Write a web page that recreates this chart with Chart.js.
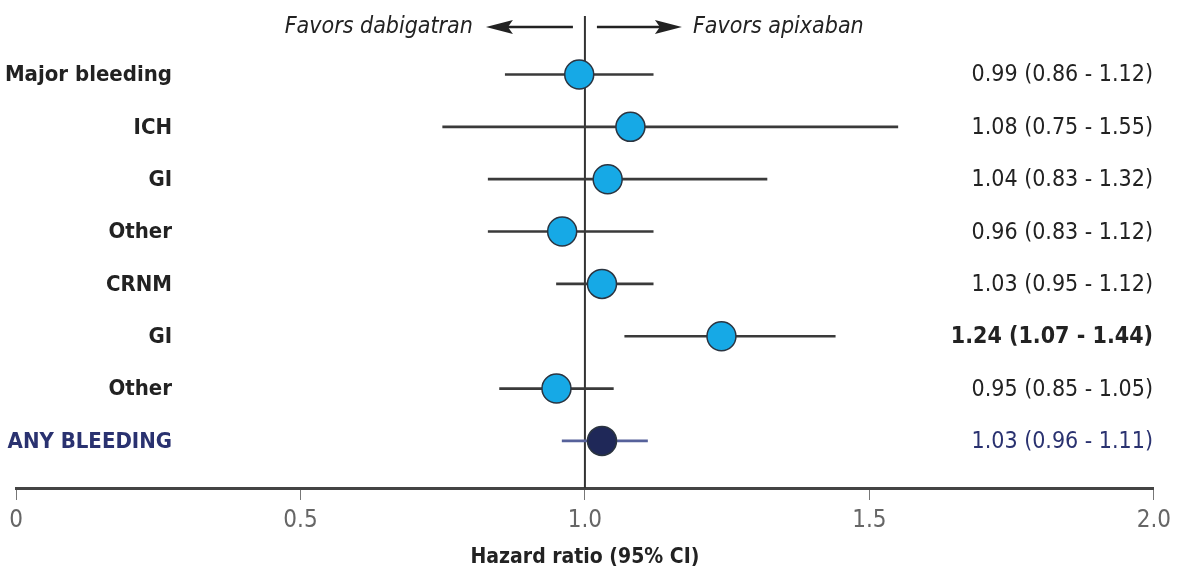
<!DOCTYPE html>
<html>
<head>
<meta charset="utf-8">
<script src="https://cdn.jsdelivr.net/npm/chart.js@4.4.1/dist/chart.umd.min.js"></script>
<style>
  html, body { margin: 0; padding: 0; background: #fff; }
  #wrap { width: 1177px; height: 574px; }
</style>
</head>
<body>
<div id="wrap"><canvas id="forest"></canvas></div>
<script>
// Rows, top to bottom
const categories = ['Major bleeding', 'ICH', 'GI', 'Other', 'CRNM', 'GI', 'Other', 'ANY BLEEDING'];
const hazardRatio = [0.99, 1.08, 1.04, 0.96, 1.03, 1.24, 0.95, 1.03];
const ciLow = [0.86, 0.75, 0.83, 0.83, 0.95, 1.07, 0.85, 0.96];
const ciHigh = [1.12, 1.55, 1.32, 1.12, 1.12, 1.44, 1.05, 1.11];
const boldRows = [5];
const totalRow = 7;
const tickLabels = ['0', '0.5', '1.0', '1.5', '2.0'];

const NARROW = "'Liberation Sans Narrow', 'DejaVu Sans Condensed', 'Arial Narrow', sans-serif";
const NAVY = '#2a3270';

// Text, arrows and the no-effect line
const forestDecor = {
  id: 'forestDecor',
  beforeDatasetsDraw: function(chart) {
    const ctx = chart.ctx;
    const x = chart.scales.x;
    const area = chart.chartArea;
    const x1 = x.getPixelForValue(1);
    ctx.save();
    ctx.strokeStyle = '#333';
    ctx.lineWidth = 2;
    ctx.beginPath();
    ctx.moveTo(x1, 16);
    ctx.lineTo(x1, area.bottom);
    ctx.stroke();
    ctx.restore();
  },
  afterDatasetsDraw: function(chart) {
    const ctx = chart.ctx;
    const x = chart.scales.x;
    const y = chart.scales.y;
    const x1 = x.getPixelForValue(1);
    ctx.save();
    ctx.textBaseline = 'middle';

    categories.forEach(function(name, i) {
      const py = y.getPixelForValue(i) + 1;
      const isBold = boldRows.indexOf(i) >= 0;
      const color = i === totalRow ? NAVY : '#222';
      ctx.fillStyle = color;
      ctx.textAlign = 'right';
      ctx.font = 'bold 22px ' + NARROW;
      ctx.fillText(name, 172, py);
      ctx.font = (isBold ? 'bold ' : '') + '23px ' + NARROW;
      const txt = hazardRatio[i].toFixed(2) + ' (' + ciLow[i].toFixed(2) + ' - ' + ciHigh[i].toFixed(2) + ')';
      ctx.fillText(txt, 1153, py);
    });

    // header arrows
    const ay = 27;
    ctx.fillStyle = '#222';
    ctx.strokeStyle = '#222';
    ctx.lineWidth = 2.5;
    ctx.beginPath();
    ctx.moveTo(x1 - 12, ay); ctx.lineTo(x1 - 80, ay);
    ctx.moveTo(x1 + 12, ay); ctx.lineTo(x1 + 78, ay);
    ctx.stroke();
    ctx.beginPath();
    ctx.moveTo(x1 - 99, ay); ctx.lineTo(x1 - 72, ay - 7); ctx.lineTo(x1 - 77, ay); ctx.lineTo(x1 - 72, ay + 7); ctx.closePath();
    ctx.moveTo(x1 + 97, ay); ctx.lineTo(x1 + 70, ay - 7); ctx.lineTo(x1 + 75, ay); ctx.lineTo(x1 + 70, ay + 7); ctx.closePath();
    ctx.fill();

    ctx.font = 'italic 23px ' + NARROW;
    ctx.textAlign = 'right';
    ctx.fillText('Favors dabigatran', x1 - 112, ay);
    ctx.textAlign = 'left';
    ctx.fillText('Favors apixaban', x1 + 108, ay);
    ctx.restore();
  }
};

const barColors = categories.map(function(c, i) { return i === totalRow ? '#56619a' : '#3a3a3a'; });
const pointColors = categories.map(function(c, i) { return i === totalRow ? '#1f2858' : '#16a9e6'; });

new Chart(document.getElementById('forest').getContext('2d'), {
  type: 'bar',
  data: {
    datasets: [{
      type: 'bar',
      data: categories.map(function(c, i) { return { x: [ciLow[i], ciHigh[i]], y: i }; }),
      backgroundColor: barColors,
      barThickness: 2,
      order: 2
    }, {
      type: 'scatter',
      data: categories.map(function(c, i) { return { x: hazardRatio[i], y: i }; }),
      backgroundColor: pointColors,
      borderColor: '#2b3440',
      borderWidth: 1.5,
      pointRadius: 14.5,
      order: 1
    }]
  },
  options: {
    indexAxis: 'y',
    responsive: true,
    maintainAspectRatio: false,
    animation: false,
    layout: { padding: { left: 15, right: 21, top: 18, bottom: 0 } },
    plugins: {
      legend: { display: false },
      tooltip: { enabled: false }
    },
    scales: {
      y: {
        type: 'linear',
        display: false,
        offset: false,
        reverse: true,
        min: -1.08,
        max: 7.9
      },
      x: {
        type: 'linear',
        position: 'bottom',
        min: 0,
        max: 2,
        border: { display: true, color: '#444', width: 3 },
        grid: { drawOnChartArea: false, tickLength: 12, color: '#777', lineWidth: 1 },
        ticks: {
          stepSize: 0.5,
          padding: 6,
          color: '#666',
          font: { family: NARROW, size: 24 },
          callback: function(v) { return tickLabels[Math.round(v / 0.5)]; }
        },
        title: {
          display: true,
          text: 'Hazard ratio (95% CI)',
          color: '#222',
          font: { family: NARROW, size: 21, weight: 'bold' },
          padding: { top: 4, bottom: 4 }
        }
      }
    }
  },
  plugins: [forestDecor]
});
</script>
</body>
</html>
